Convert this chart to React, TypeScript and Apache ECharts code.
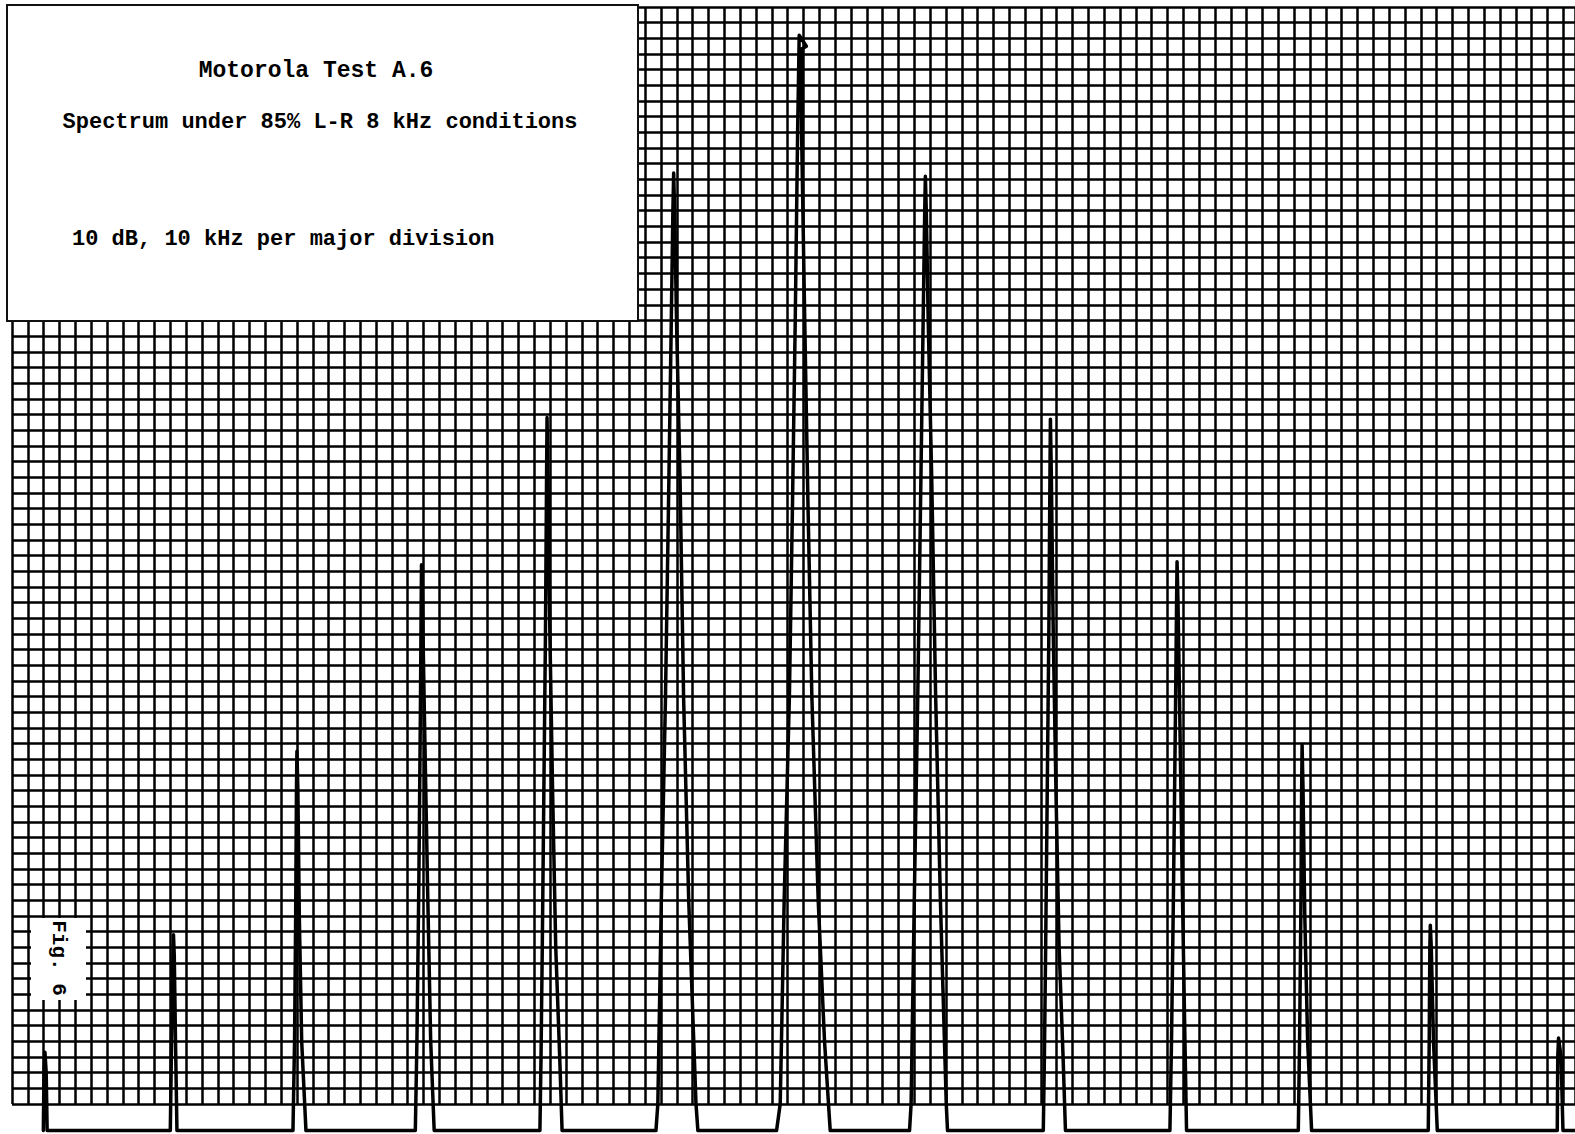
import React, { useEffect, useRef } from "react";
import * as echarts from "echarts";

// Units: x = kHz (1 small square = 1 kHz, grid left edge = 0), y = dB below top line (1 square = 1 dB)
const BASE = -71.7;

const peak1 = [[1.98, BASE], [2.02, -68], [2.08, -66.7], [2.16, -68], [2.22, BASE]];
const peak2 = [[10.0, BASE], [10.08, -66], [10.17, -60.5], [10.2, -59.2], [10.25, -60.5], [10.33, -66], [10.42, BASE]];
const peak3 = [[17.75, BASE], [17.85, -66], [17.92, -58], [17.97, -50], [18.0, -47.5], [18.06, -50], [18.15, -58], [18.3, -66], [18.57, BASE]];
const peak4 = [[25.48, BASE], [25.58, -66], [25.7, -56], [25.8, -45], [25.85, -38], [25.87, -35.6], [25.93, -38], [26.05, -45], [26.25, -56], [26.45, -66], [26.67, BASE]];
const peak5 = [[33.35, BASE], [33.42, -67], [33.5, -60], [33.6, -50], [33.7, -40], [33.77, -30], [33.8, -26.2], [33.86, -30], [33.98, -40], [34.15, -50], [34.35, -60], [34.6, -67], [34.75, BASE]];
const peak6 = [[40.68, BASE], [40.8, -70], [41.02, -57], [41.28, -44.2], [41.5, -30], [41.65, -20], [41.75, -13], [41.8, -10.6], [41.86, -13], [41.98, -20], [42.2, -30], [42.43, -44.2], [42.75, -57], [43.21, -70], [43.33, BASE]];
const peak7 = [[48.3, BASE], [48.53, -70], [48.61, -66], [48.78, -57], [49.11, -44], [49.31, -31.5], [49.48, -20], [49.63, -8], [49.73, -1.8], [50.18, -2.5], [49.86, -2.7], [49.88, -8], [50.08, -20], [50.28, -31.5], [50.53, -44], [50.93, -57], [51.33, -66], [51.58, -70], [51.69, BASE]];
const peak8 = [[56.7, BASE], [56.8, -70], [57.0, -57], [57.22, -44], [57.42, -30], [57.56, -20], [57.66, -13], [57.7, -10.8], [57.76, -13], [57.88, -20], [58.1, -30], [58.35, -44], [58.65, -57], [59.02, -70], [59.1, BASE]];
const peak9 = [[65.15, BASE], [65.22, -67], [65.3, -60], [65.4, -50], [65.5, -40], [65.57, -30], [65.6, -26.3], [65.66, -30], [65.78, -40], [65.95, -50], [66.15, -60], [66.4, -67], [66.55, BASE]];
const peak10 = [[73.15, BASE], [73.25, -66], [73.38, -56], [73.5, -45], [73.57, -38], [73.6, -35.4], [73.66, -38], [73.77, -45], [73.93, -56], [74.1, -66], [74.2, BASE]];
const peak11 = [[81.26, BASE], [81.34, -66], [81.42, -58], [81.47, -50], [81.5, -47.1], [81.56, -50], [81.67, -58], [81.85, -66], [82.1, BASE]];
const peak12 = [[89.47, BASE], [89.53, -66], [89.57, -60], [89.6, -58.6], [89.66, -60], [89.8, -66], [90.04, BASE]];
const peak13 = [[97.62, BASE], [97.65, -67], [97.7, -65.8], [97.86, -67], [97.98, BASE], [98.74, BASE]];

const peaks = [peak1, peak2, peak3, peak4, peak5, peak6, peak7, peak8, peak9, peak10, peak11, peak12, peak13];

const titleLines = [
  "Motorola Test A.6",
  "Spectrum under 85% L-R 8 kHz conditions",
  "10 dB, 10 kHz per major division",
];
const figLabel = "Fig. 6";

const X_MAX = 98.74;
const PAPER_MIN = -70;
const TRACE_MIN = -71.92;

export default function App() {
  const ref = useRef<HTMLDivElement>(null);
  useEffect(() => {
    if (!ref.current) return;
    const chart = echarts.init(ref.current, undefined, { renderer: "svg" });
    const trace: number[][] = [];
    peaks.forEach((p) => p.forEach((pt) => trace.push(pt)));
    const gridLine = { show: true, lineStyle: { color: "#000", width: 2.5 } };
    const hidden = { axisLine: { show: false }, axisTick: { show: false }, axisLabel: { show: false } };
    const font = "Liberation Mono";
    chart.setOption({
      animation: false,
      backgroundColor: "#ffffff",
      grid: [
        { left: 12, top: 7, width: 1563, height: 1097 },
        { left: 12, top: 7, width: 1563, height: 1127 },
      ],
      xAxis: [
        { type: "value", gridIndex: 0, min: 0, max: X_MAX, interval: 1, splitLine: gridLine, ...hidden },
        { type: "value", gridIndex: 1, min: 0, max: X_MAX, splitLine: { show: false }, ...hidden },
      ],
      yAxis: [
        { type: "value", gridIndex: 0, min: PAPER_MIN, max: 0, interval: 1, splitLine: gridLine, ...hidden },
        { type: "value", gridIndex: 1, min: TRACE_MIN, max: 0, splitLine: { show: false }, ...hidden },
      ],
      series: [
        {
          type: "line",
          xAxisIndex: 1,
          yAxisIndex: 1,
          data: trace,
          showSymbol: false,
          symbol: "none",
          lineStyle: { color: "#000", width: 3.5, join: "round", cap: "round" },
          z: 5,
        },
      ],
      graphic: [
        {
          type: "rect",
          z: 100,
          shape: { x: 7, y: 5, width: 631, height: 316 },
          style: { fill: "#ffffff", stroke: "#111", lineWidth: 2 },
        },
        {
          type: "text",
          z: 101,
          x: 316,
          y: 71,
          style: { text: titleLines[0], fontFamily: font, fontSize: 23, fontWeight: "bold", fill: "#000", align: "center", verticalAlign: "middle", textAlign: "center", textVerticalAlign: "middle" },
        },
        {
          type: "text",
          z: 101,
          x: 320,
          y: 122,
          style: { text: titleLines[1], fontFamily: font, fontSize: 22, fontWeight: "bold", fill: "#000", align: "center", verticalAlign: "middle", textAlign: "center", textVerticalAlign: "middle" },
        },
        {
          type: "text",
          z: 101,
          x: 72,
          y: 239,
          style: { text: titleLines[2], fontFamily: font, fontSize: 22, fontWeight: "bold", fill: "#000", align: "left", verticalAlign: "middle", textAlign: "left", textVerticalAlign: "middle" },
        },
        {
          type: "rect",
          z: 100,
          shape: { x: 31, y: 918, width: 55, height: 82 },
          style: { fill: "#ffffff" },
        },
        {
          type: "text",
          z: 101,
          x: 58,
          y: 958,
          rotation: -Math.PI / 2,
          style: { text: figLabel, fontFamily: font, fontSize: 21, fontWeight: "bold", fill: "#000", align: "center", verticalAlign: "middle", textAlign: "center", textVerticalAlign: "middle" },
        },
      ],
    });
    return () => chart.dispose();
  }, []);
  return (
    <div
      ref={ref}
      style={{ position: "absolute", left: 0, top: 0, width: 1575, height: 1134, background: "#fff" }}
    />
  );
}
